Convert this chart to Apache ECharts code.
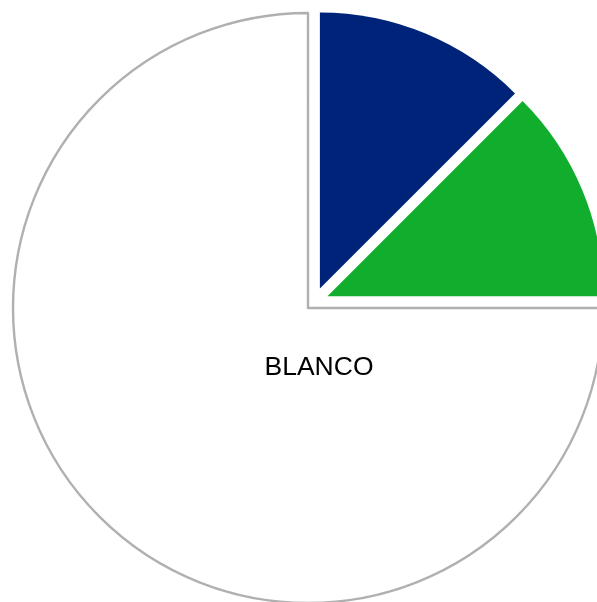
<!DOCTYPE html>
<html>
<head>
<meta charset="utf-8">
<script src="https://cdn.jsdelivr.net/npm/echarts@6/dist/echarts.min.js"></script>
<style>
html,body{margin:0;padding:0;background:#fff;}
#chart{width:597px;height:602px;}
</style>
</head>
<body>
<div id="chart"></div>
<script>
const categories = ['AZUL', 'VERDE', 'BLANCO'];
const values = [12.5, 12.5, 75];
const colors = ['#00237a', '#10ae2c', '#ffffff'];
const labelText = 'BLANCO';

const chart = echarts.init(document.getElementById('chart'), null, {renderer: 'canvas'});

// back layer: the white slice with grey border
const backData = categories.map((c, i) => ({
  name: c,
  value: values[i],
  itemStyle: i === 2
    ? {color: colors[i], borderColor: '#b0b0b0', borderWidth: 2.4}
    : {color: 'rgba(0,0,0,0)', borderWidth: 0}
}));
// front layer: exploded coloured slices
const frontData = categories.map((c, i) => ({
  name: c,
  value: values[i],
  selected: i !== 2,
  itemStyle: i === 2
    ? {color: 'rgba(0,0,0,0)', borderWidth: 0}
    : {color: colors[i], borderWidth: 0}
}));

chart.setOption({
  animation: false,
  backgroundColor: '#ffffff',
  series: [
    {
      type: 'pie',
      center: [308, 308],
      radius: [0, 295],
      startAngle: 90,
      clockwise: true,
      silent: true,
      label: {show: false},
      labelLine: {show: false},
      data: backData
    },
    {
      type: 'pie',
      center: [314.5, 301.5],
      radius: [0, 276],
      startAngle: 90,
      clockwise: true,
      selectedMode: 'multiple',
      selectedOffset: 14,
      silent: true,
      label: {show: false},
      labelLine: {show: false},
      emphasis: {disabled: true},
      data: frontData
    }
  ],
  graphic: [{
    type: 'text',
    x: 319,
    y: 368,
    z: 100,
    silent: true,
    style: {
      text: labelText,
      fill: '#000000',
      fontSize: 26.5,
      fontFamily: '"Liberation Sans", Arial, sans-serif',
      align: 'center',
      verticalAlign: 'middle'
    }
  }]
});
</script>
</body>
</html>
